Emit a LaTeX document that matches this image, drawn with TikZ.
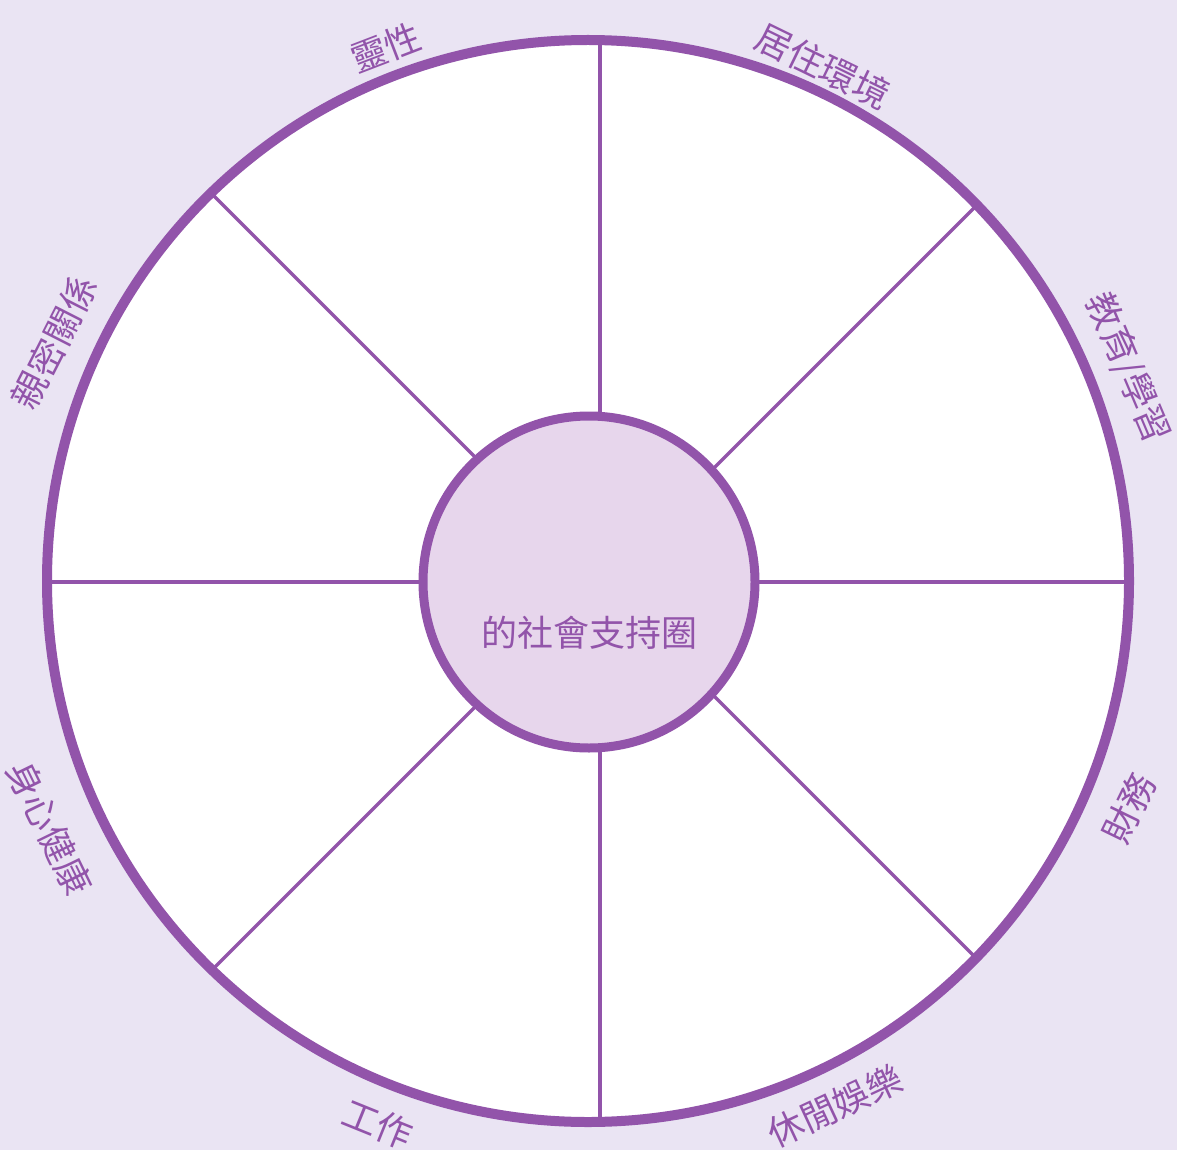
\documentclass[tikz,border=0pt]{standalone}
\usepackage{fontspec}
\newfontfamily\cjk{Noto Sans CJK TC}
\definecolor{bgc}{RGB}{234,228,243}
\definecolor{ringc}{RGB}{146,84,170}
\definecolor{hubc}{RGB}{231,214,236}
\begin{document}
\begin{tikzpicture}[x=1pt,y=-1pt,
  lbl/.style={font=\cjk\fontsize{36}{40}\selectfont, text=ringc, inner sep=0pt},
  spoke/.style={draw=ringc, line width=3.5pt},
  rim/.style={draw=ringc, line width=10pt}]
\fill[bgc] (0,0) rectangle (1177,1150);
\useasboundingbox (0,0) rectangle (1177,1150);
\coordinate (C) at (588,581);
\coordinate (S) at (600,582);
\coordinate (H) at (589,582);
\begin{scope}
  \clip (C) circle[radius=541];
  \fill[white] (C) circle[radius=541];
  \foreach \a in {0,45,...,315} \draw[spoke] (S) -- ++(\a:620);
\end{scope}
\draw[rim] (C) circle[radius=541];
\draw[draw=ringc, fill=hubc, line width=9pt] (H) circle[radius=166];
\node[lbl] (hubtext) at (589,633) {的社會支持圈};
\node[lbl, rotate=21]  (l1) at (386,48)   {靈性};
\node[lbl, rotate=-26] (l2) at (823,66)   {居住環境};
\node[lbl, rotate=-67] (l3) at (1128,368) {教育/學習};
\node[lbl, rotate=64]  (l4) at (1129,808) {財務};
\node[lbl, rotate=25]  (l5) at (835,1106) {休閒娛樂};
\node[lbl, rotate=-22] (l6) at (378,1124) {工作};
\node[lbl, rotate=-64] (l7) at (50,828)   {身心健康};
\node[lbl, rotate=63]  (l8) at (54,342)   {親密關係};
\end{tikzpicture}
\end{document}
